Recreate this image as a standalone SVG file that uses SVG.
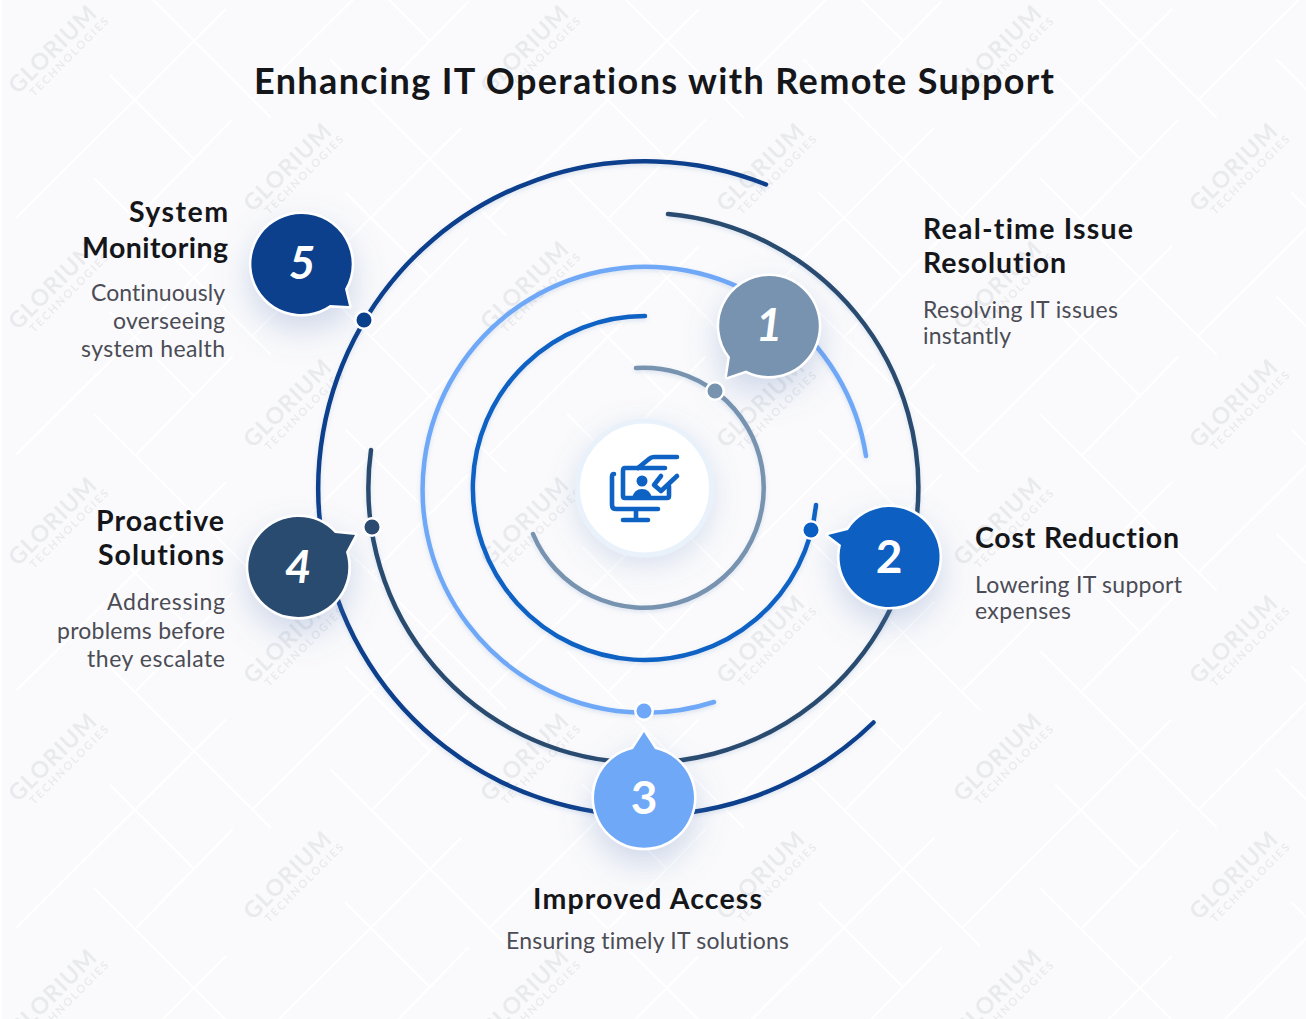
<svg xmlns="http://www.w3.org/2000/svg" xmlns:xlink="http://www.w3.org/1999/xlink" width="1306" height="1019" viewBox="0 0 1306 1019">
<style>
text{font-family:"Lato","Noto Sans",sans-serif;font-variant-ligatures:none}
.t{font-size:36px;font-weight:700;fill:#15161a}
.h{font-size:28.5px;font-weight:700;fill:#15161a}
.b{font-size:23px;font-weight:400;fill:#4b4c55}
.n{font-size:46px;font-weight:700;font-style:italic;fill:#fff;text-anchor:middle}
.w1{font-size:23px;font-weight:700;fill:#8f949c;opacity:.15}
.w2{font-size:11px;font-weight:700;fill:#8f949c;opacity:.15}
.arc{fill:none;stroke-width:4.5;stroke-linecap:round;filter:url(#as)}
.bg{stroke:#fff;stroke-width:2.2;fill:none;stroke-linecap:round}
.bub{stroke:#fff;stroke-width:5;stroke-linejoin:round;paint-order:stroke;filter:url(#bs)}
.dot{stroke:#fff;stroke-width:5;paint-order:stroke}
.ic{fill:none;stroke:#0d62c4;stroke-width:4.6;stroke-linecap:round;stroke-linejoin:round}
</style>
<defs>
<filter id="bs" x="-60%" y="-60%" width="220%" height="240%"><feDropShadow dx="0" dy="14" stdDeviation="16" flood-color="#5b7fb8" flood-opacity=".28"/></filter>
<filter id="as" x="-10%" y="-10%" width="120%" height="120%"><feDropShadow dx="0" dy="2" stdDeviation="2" flood-color="#5b7fb8" flood-opacity=".2"/></filter>
<filter id="cs" x="-60%" y="-60%" width="220%" height="220%"><feDropShadow dx="0" dy="8" stdDeviation="14" flood-color="#5b7fb8" flood-opacity=".22"/></filter>
<g id="wm"><g transform="rotate(-45)"><text class="w1" x="0" y="0" textLength="113">GLORIUM</text><text class="w2" x="10" y="13" textLength="106">TECHNOLOGIES</text></g></g>
<path id="bl" class="bg" d="M17 217L225 10M137 217L232 120M95 -58L270 117M110 75L193 158"/>
</defs>
<rect width="1306" height="1019" fill="#fafafc"/>
<rect width="2" height="1019" fill="#fff"/>
<g id="background">
<use href="#bl" x="0" y="0"/><use href="#bl" x="0" y="237"/><use href="#bl" x="0" y="473"/><use href="#bl" x="0" y="710"/><use href="#bl" x="0" y="947"/>
<use href="#bl" x="236" y="-118"/><use href="#bl" x="236" y="118"/><use href="#bl" x="236" y="355"/><use href="#bl" x="236" y="592"/><use href="#bl" x="236" y="828"/>
<use href="#bl" x="473" y="0"/><use href="#bl" x="473" y="237"/><use href="#bl" x="473" y="473"/><use href="#bl" x="473" y="710"/><use href="#bl" x="473" y="947"/>
<use href="#bl" x="709" y="-118"/><use href="#bl" x="709" y="118"/><use href="#bl" x="709" y="355"/><use href="#bl" x="709" y="592"/><use href="#bl" x="709" y="828"/>
<use href="#bl" x="946" y="0"/><use href="#bl" x="946" y="237"/><use href="#bl" x="946" y="473"/><use href="#bl" x="946" y="710"/><use href="#bl" x="946" y="947"/>
<use href="#bl" x="1182" y="-118"/><use href="#bl" x="1182" y="118"/><use href="#bl" x="1182" y="355"/><use href="#bl" x="1182" y="592"/><use href="#bl" x="1182" y="828"/>
</g>
<g id="watermarks">
<use href="#wm" x="18" y="95"/><use href="#wm" x="490" y="95"/><use href="#wm" x="963" y="95"/>
<use href="#wm" x="253" y="213"/><use href="#wm" x="726" y="213"/><use href="#wm" x="1199" y="213"/>
<use href="#wm" x="18" y="331"/><use href="#wm" x="490" y="331"/><use href="#wm" x="963" y="331"/>
<use href="#wm" x="253" y="449"/><use href="#wm" x="726" y="449"/><use href="#wm" x="1199" y="449"/>
<use href="#wm" x="18" y="567"/><use href="#wm" x="490" y="567"/><use href="#wm" x="963" y="567"/>
<use href="#wm" x="253" y="685"/><use href="#wm" x="726" y="685"/><use href="#wm" x="1199" y="685"/>
<use href="#wm" x="18" y="803"/><use href="#wm" x="490" y="803"/><use href="#wm" x="963" y="803"/>
<use href="#wm" x="253" y="921"/><use href="#wm" x="726" y="921"/><use href="#wm" x="1199" y="921"/>
<use href="#wm" x="18" y="1039"/><use href="#wm" x="490" y="1039"/><use href="#wm" x="963" y="1039"/>
</g>
<text class="t" x="254" y="94" textLength="800">Enhancing IT Operations with Remote Support</text>
<g id="connectors">
<path class="arc" stroke="#0a3f8c" d="M766 184.500A327 327 0 1 0 873.500 722.500"/>
<path class="arc" stroke="#2b4c70" d="M668 214A275 275 0 1 1 371 450"/>
<path class="arc" stroke="#6fa8f8" d="M866 456A223 223 0 1 0 714 702"/>
<path class="arc" stroke="#0d62c4" d="M645 316A172 172 0 1 0 816 505"/>
<path class="arc" stroke="#7793b0" d="M636 368A120 120 0 1 1 533 534"/>
</g>
<g id="center">
<circle cx="644.500" cy="488" r="67" fill="#fff" stroke="#e9f1fb" stroke-width="5" filter="url(#cs)"/>
<path class="ic" d="M614 474Q612 474 612 477V505Q612 509 616 509H658"/>
<path class="ic" d="M636 510V520M623 520H648"/>
<path class="ic" d="M665 468H625Q623 468 623 471V496Q623 498 625 498H667Q669 498 669 496V486"/>
<path class="ic" d="M638 468L649 459Q651 457 654 457H677"/>
<path class="ic" d="M677 476L661 491L654 485L661 476"/>
<circle cx="642" cy="481" r="5.500" fill="#0d62c4"/>
<path d="M632 498Q634 489 642 489Q650 489 652 498Z" fill="#0d62c4"/>
</g>
<g id="node1">
<path class="bub" fill="#7793b0" d="M769 276A50 50 0 1 1 746 370.500L727 377L730 357A50 50 0 0 1 769 276Z"/>
<text class="n" x="769" y="341">1</text>
<circle class="dot" cx="715" cy="391" r="7.500" fill="#7793b0"/>
<text class="h" x="923" y="239" textLength="210">Real-time Issue</text><text class="h" x="923" y="273" textLength="143">Resolution</text>
<text class="b" x="923" y="318" textLength="195">Resolving IT issues</text><text class="b" x="923" y="344" textLength="88">instantly</text>
</g>
<g id="node2">
<path class="bub" fill="#0a60c2" d="M888 507A50 50 0 1 1 841 545L828 535L848 530A50 50 0 0 1 888 507Z"/>
<text class="n" x="889" y="573" style="font-style:normal">2</text>
<circle class="dot" cx="811" cy="530" r="7.500" fill="#0a60c2"/>
<text class="h" x="975" y="548" textLength="204">Cost Reduction</text>
<text class="b" x="975" y="593" textLength="207">Lowering IT support</text><text class="b" x="975" y="619" textLength="96">expenses</text>
</g>
<g id="node3">
<path class="bub" fill="#6fa8f8" d="M644 732L655 749A50 50 0 1 1 633 749Z"/>
<text class="n" x="644" y="814" style="font-style:normal">3</text>
<circle class="dot" cx="644" cy="711" r="7.500" fill="#6fa8f8"/>
<text class="h" x="533" y="909" textLength="229">Improved Access</text>
<text class="b" x="506" y="949" textLength="283">Ensuring timely IT solutions</text>
</g>
<g id="node4">
<path class="bub" fill="#2b4c70" d="M298 517A50 50 0 0 1 335 533L355 535L346 552A50 50 0 1 1 298 517Z"/>
<text class="n" x="298" y="583">4</text>
<circle class="dot" cx="372" cy="527" r="7.500" fill="#2b4c70"/>
<text class="h" x="96" y="531" textLength="128">Proactive</text><text class="h" x="98" y="565" textLength="126">Solutions</text>
<text class="b" x="107" y="610" textLength="118">Addressing</text><text class="b" x="57" y="639" textLength="168">problems before</text><text class="b" x="87" y="667" textLength="138">they escalate</text>
</g>
<g id="node5">
<path class="bub" fill="#0a3f8c" d="M302 214A50 50 0 0 1 345 289L349 306L330 305A50 50 0 1 1 302 214Z"/>
<text class="n" x="302" y="279">5</text>
<circle class="dot" cx="364" cy="320" r="7.500" fill="#0a3f8c"/>
<text class="h" x="129" y="222" textLength="99">System</text><text class="h" x="82" y="258" textLength="146">Monitoring</text>
<text class="b" x="91" y="301" textLength="134">Continuously</text><text class="b" x="113" y="329" textLength="112">overseeing</text><text class="b" x="81" y="357" textLength="144">system health</text>
</g>
</svg>
